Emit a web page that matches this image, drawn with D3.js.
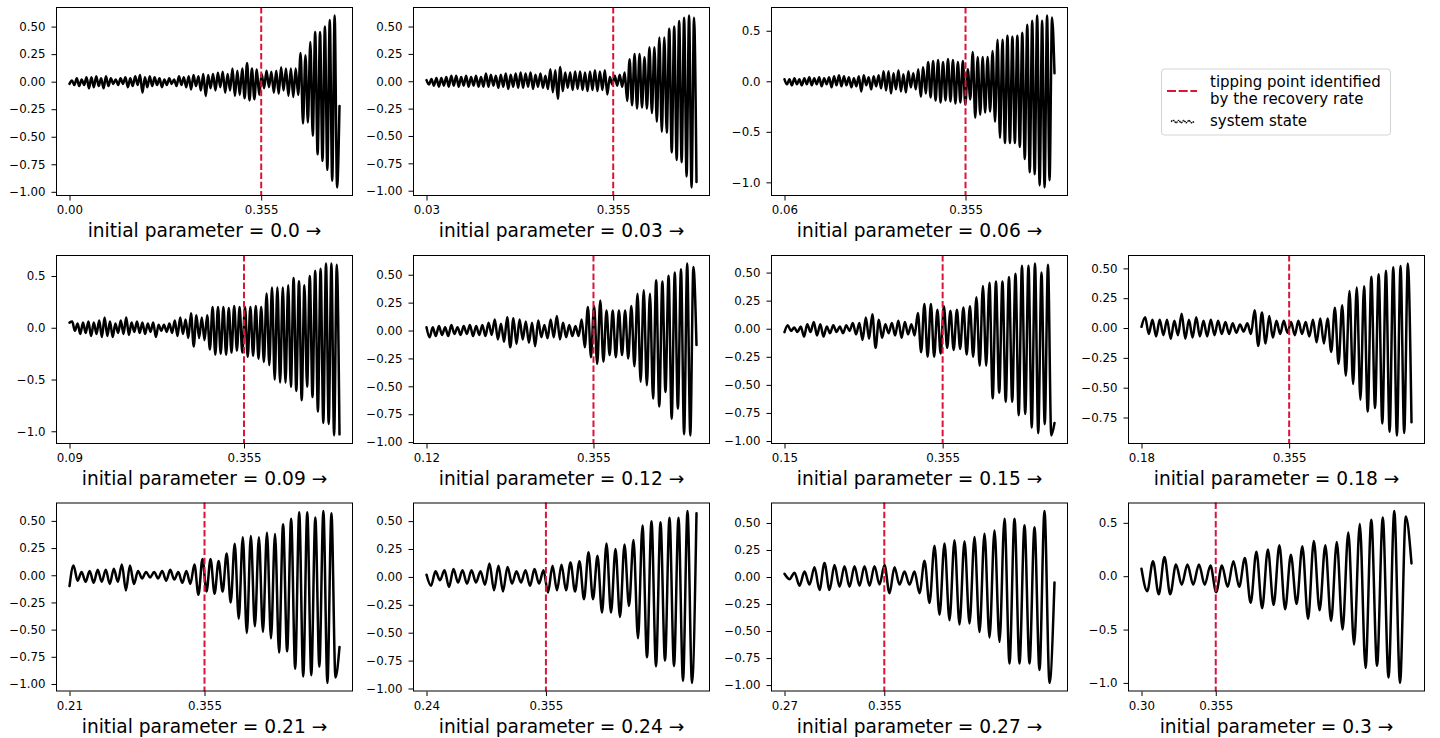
<!DOCTYPE html>
<html>
<head>
<meta charset="utf-8">
<script src="https://cdn.jsdelivr.net/npm/d3@7"></script>
<style>
  html, body { margin: 0; padding: 0; background: #ffffff; }
  svg { display: block; font-family: "DejaVu Sans", sans-serif; }
</style>
</head>
<body>
<svg id="chart" width="1440" height="738"></svg>
<script>
// ---- data -------------------------------------------------------------
// starting value of the slowly ramped parameter, one run per panel
const startParams = [0.0, 0.03, 0.06, 0.09, 0.12, 0.15, 0.18, 0.21, 0.24, 0.27, 0.3];
const titleLabels = ["0.0", "0.03", "0.06", "0.09", "0.12", "0.15", "0.18", "0.21", "0.24", "0.27", "0.3"];
const startTickLabels = ["0.00", "0.03", "0.06", "0.09", "0.12", "0.15", "0.18", "0.21", "0.24", "0.27", "0.30"];
const tippingPoint = 0.355;   // tipping point found from the recovery rate
const endParam = 0.5;         // every run ends here

// system state, successive turning points (peak / trough) of each run,
// evenly spaced in time from the start parameter to the end parameter
const stateFrom000 = [
  -0.02, 0.01, -0.03, 0.03, -0.04, 0.02, -0.03, 0.04, -0.06, 0.04,
  -0.05, 0.05, -0.04, 0.03, -0.06, 0.05, -0.04, 0.03, -0.02, 0.02,
  -0.03, 0.03, -0.02, 0.04, -0.05, 0.03, -0.04, 0.05, -0.03, 0.06,
  -0.10, 0.04, -0.05, 0.05, -0.04, 0.04, -0.03, 0.03, -0.05, 0.02,
  -0.03, 0.03, -0.02, 0.02, -0.04, 0.05, -0.03, 0.04, -0.05, 0.05,
  -0.07, 0.06, -0.04, 0.05, -0.08, 0.07, -0.13, 0.06, -0.06, 0.07,
  -0.08, 0.08, -0.05, 0.09, -0.10, 0.07, -0.08, 0.12, -0.13, 0.10,
  -0.12, 0.12, -0.15, 0.17, -0.17, 0.12, -0.16, 0.11, -0.12, 0.07,
  -0.06, 0.10, -0.05, 0.09, -0.10, 0.10, -0.11, 0.13, -0.08, 0.12,
  -0.13, 0.12, -0.14, 0.12, -0.12,
  0.26, -0.38, 0.24, -0.37, 0.36, -0.49, 0.45, -0.66, 0.45, -0.72,
  0.50, -0.80, 0.56, -0.90, 0.60, -0.96, -0.22
];
const stateFrom003 = [
  0.01, -0.03, 0.02, -0.04, 0.03, -0.05, 0.03, -0.04, 0.04, -0.05,
  0.05, -0.04, 0.05, -0.05, 0.04, -0.04, 0.05, -0.05, 0.04, -0.04,
  0.05, -0.05, 0.04, -0.05, 0.07, -0.05, 0.06, -0.04, 0.05, -0.06,
  0.06, -0.05, 0.07, -0.07, 0.06, -0.05, 0.07, -0.06, 0.08, -0.06,
  0.07, -0.05, 0.08, -0.07, 0.06, -0.05, 0.07, -0.06, 0.05, -0.07,
  0.11, -0.10, 0.10, -0.16, 0.13, -0.09, 0.08, -0.06, 0.08, -0.08,
  0.09, -0.07, 0.09, -0.08, 0.08, -0.09, 0.09, -0.08, 0.10, -0.09,
  0.09, -0.08, 0.10, -0.12, 0.04, -0.03, 0.05, -0.04, 0.06, -0.05,
  0.08, -0.18, 0.20, -0.22, 0.25, -0.25, 0.25, -0.24, 0.22, -0.25,
  0.31, -0.29, 0.31, -0.37, 0.40, -0.46, 0.40, -0.47, 0.48, -0.65,
  0.50, -0.72, 0.55, -0.74, 0.58, -0.87, 0.60, -0.97, 0.58, -0.92
];
const stateFrom006 = [
  0.02, -0.03, 0.02, -0.04, 0.03, -0.03, 0.02, -0.04, 0.03, -0.03,
  0.04, -0.04, 0.03, -0.03, 0.04, -0.05, 0.03, -0.03, 0.04, -0.06,
  0.05, -0.04, 0.06, -0.05, 0.05, -0.04, 0.04, -0.06, 0.03, -0.05,
  0.05, -0.10, 0.06, -0.04, 0.04, -0.08, 0.05, -0.05, 0.06, -0.07,
  0.10, -0.09, 0.10, -0.12, 0.08, -0.08, 0.11, -0.10, 0.07, -0.11,
  0.10, -0.06, 0.08, -0.08, 0.12, -0.15, 0.14, -0.12, 0.19, -0.16,
  0.20, -0.19, 0.21, -0.21, 0.19, -0.19, 0.22, -0.20, 0.21, -0.22,
  0.19, -0.21, 0.20, -0.23, 0.12, -0.18, 0.29, -0.36, 0.24, -0.33,
  0.24, -0.31, 0.24, -0.30, 0.30, -0.40, 0.41, -0.56, 0.41, -0.61,
  0.45, -0.61, 0.44, -0.61, 0.45, -0.65, 0.48, -0.77, 0.56, -0.90,
  0.60, -0.92, 0.65, -1.03, 0.60, -1.05, 0.65, -0.98, 0.63, 0.08
];
const stateFrom009 = [
  0.05, 0.06, -0.03, 0.04, -0.06, 0.05, -0.05, 0.06, -0.08, 0.05,
  -0.06, 0.07, -0.09, 0.10, -0.08, 0.06, -0.09, 0.04, -0.05, 0.07,
  -0.06, 0.10, -0.07, 0.05, -0.04, 0.06, -0.05, 0.05, -0.06, 0.04,
  -0.04, 0.05, -0.09, 0.03, -0.03, 0.03, -0.04, 0.04, -0.05, 0.07,
  -0.08, 0.10, -0.06, 0.08, -0.10, 0.14, -0.18, 0.12, -0.10, 0.10,
  -0.12, 0.12, -0.21, 0.20, -0.26, 0.20, -0.25, 0.20, -0.26, 0.19,
  -0.24, 0.21, -0.22, 0.20, -0.24,
  0.20, -0.28, 0.20, -0.27, 0.21, -0.30, 0.20, -0.33, 0.33, -0.36,
  0.39, -0.50, 0.39, -0.53, 0.39, -0.53, 0.41, -0.57, 0.48, -0.61,
  0.45, -0.70, 0.41, -0.57, 0.50, -0.67, 0.55, -0.81, 0.57, -0.92,
  0.62, -0.93, 0.62, -1.04, 0.61, -1.03
];
const stateFrom012 = [
  0.03, -0.06, 0.03, -0.05, 0.04, -0.04, 0.03, -0.05, 0.05, -0.03,
  0.03, -0.04, 0.04, -0.03, 0.05, -0.05, 0.04, -0.04, 0.05, -0.05,
  0.07, -0.04, 0.10, -0.08, 0.06, -0.10, 0.12, -0.15, 0.11, -0.12,
  0.10, -0.08, 0.08, -0.11, 0.07, -0.14, 0.09, -0.06, 0.05, -0.07,
  0.10, -0.06, 0.13, -0.08, 0.07, -0.06, 0.05, -0.05, 0.04, -0.05,
  0.10, -0.15,
  0.21, -0.24, 0.22, -0.30, 0.27, -0.28, 0.18, -0.22, 0.18, -0.24,
  0.18, -0.22, 0.18, -0.25, 0.22, -0.32, 0.33, -0.46, 0.36, -0.49,
  0.33, -0.61, 0.45, -0.68, 0.44, -0.55, 0.49, -0.79, 0.52, -0.70,
  0.55, -0.93, 0.60, -0.94, 0.57, -0.13
];
const stateFrom015 = [
  -0.03, 0.03, -0.02, 0.01, -0.03, 0.02, -0.07, 0.04, -0.03, 0.06,
  -0.06, 0.04, -0.07, 0.02, -0.04, 0.03, -0.03, 0.02, -0.04, 0.03,
  -0.02, 0.05, -0.05, 0.05, -0.10, 0.10, -0.09, 0.13, -0.17, 0.08,
  -0.08, 0.04, -0.04, 0.05, -0.06, 0.07, -0.08, 0.06, -0.05, 0.04,
  -0.06, 0.14, -0.21, 0.22, -0.25, 0.22, -0.25, 0.17, -0.22, 0.20,
  -0.17, 0.16, -0.19, 0.17, -0.18, 0.19, -0.23, 0.20, -0.25, 0.28,
  -0.33, 0.38, -0.33, 0.41, -0.62, 0.42, -0.57, 0.42, -0.65, 0.46,
  -0.65, 0.49, -0.77, 0.56, -0.76, 0.56, -0.88, 0.58, -0.93, 0.50,
  -0.85, 0.57, -0.95, -0.84
];
const stateFrom018 = [
  0.01, 0.09, -0.05, 0.07, -0.07, 0.07, -0.06, 0.07, -0.09, 0.06,
  -0.06, 0.12, -0.09, 0.07, -0.08, 0.09, -0.07, 0.06, -0.07, 0.07,
  -0.06, 0.06, -0.05, 0.05, -0.05, 0.04, -0.04, 0.03, -0.03, 0.04,
  -0.05, 0.15, -0.15, 0.13, -0.13, 0.10, -0.08, 0.06, -0.05, 0.06,
  -0.04, 0.05, -0.06, 0.06, -0.05, 0.05, -0.07, 0.07, -0.12, 0.08,
  -0.13, 0.08, -0.20, 0.17, -0.30, 0.19, -0.40, 0.31, -0.47, 0.34,
  -0.60, 0.35, -0.70, 0.43, -0.67, 0.45, -0.80, 0.48, -0.87, 0.51,
  -0.90, 0.52, -0.88, 0.54, -0.79
];
const stateFrom021 = [
  -0.10, 0.09, -0.05, 0.03, -0.06, 0.04, -0.07, 0.05, -0.06, 0.05,
  -0.08, 0.06, -0.06, 0.10, -0.14, 0.09, -0.08, 0.04, -0.03, 0.03,
  -0.02, 0.03, -0.03, 0.04, -0.05, 0.05, -0.04, 0.03, -0.07, 0.04,
  -0.08, 0.10, -0.18, 0.15, -0.15, 0.15, -0.17, 0.13, -0.15, 0.20,
  -0.25, 0.29, -0.40, 0.35, -0.53, 0.36, -0.47, 0.35, -0.52, 0.39,
  -0.58, 0.38, -0.71, 0.47, -0.70, 0.52, -0.86, 0.58, -0.93, 0.58,
  -0.92, 0.53, -0.84, 0.59, -0.99, 0.57, -0.94, -0.66
];
const stateFrom024 = [
  0.02, -0.08, 0.05, -0.03, 0.06, -0.09, 0.07, -0.05, 0.06, -0.06,
  0.06, -0.05, 0.05, -0.07, 0.12, -0.12, 0.10, -0.13, 0.09, -0.06,
  0.05, -0.05, 0.06, -0.08, 0.07, -0.06, 0.06, -0.14, 0.10, -0.12,
  0.11, -0.12, 0.13, -0.13, 0.14, -0.20, 0.22, -0.20, 0.19, -0.32,
  0.30, -0.32, 0.25, -0.36, 0.29, -0.26, 0.33, -0.55, 0.46, -0.72,
  0.50, -0.80, 0.49, -0.75, 0.53, -0.80, 0.53, -0.93, 0.59, -0.95,
  0.57
];
const stateFrom027 = [
  0.03, -0.02, 0.04, -0.08, 0.05, -0.07, 0.09, -0.12, 0.13, -0.12,
  0.11, -0.09, 0.10, -0.09, 0.10, -0.08, 0.10, -0.08, 0.10, -0.07,
  0.11, -0.15, 0.09, -0.07, 0.05, -0.07, 0.05, -0.15, 0.15, -0.24,
  0.29, -0.35, 0.31, -0.40, 0.34, -0.44, 0.33, -0.43, 0.37, -0.51,
  0.40, -0.56, 0.43, -0.60, 0.54, -0.80, 0.54, -0.80, 0.48, -0.80,
  0.46, -0.86, 0.61, -0.98, -0.05
];
const stateFrom030 = [
  0.07, -0.14, 0.14, -0.17, 0.18, -0.17, 0.11, -0.08, 0.11, -0.08,
  0.11, -0.08, 0.10, -0.15, 0.10, -0.10, 0.14, -0.10, 0.17, -0.25,
  0.23, -0.30, 0.25, -0.27, 0.29, -0.31, 0.20, -0.26, 0.28, -0.40,
  0.33, -0.32, 0.29, -0.42, 0.32, -0.50, 0.41, -0.64, 0.49, -0.86,
  0.53, -0.84, 0.55, -0.95, 0.61, -1.00, 0.56, 0.12
];
const stateSeries = [stateFrom000, stateFrom003, stateFrom006, stateFrom009, stateFrom012,
  stateFrom015, stateFrom018, stateFrom021, stateFrom024, stateFrom027, stateFrom030];

// y tick values for each panel
const yTicksQuarter = [-1.0, -0.75, -0.5, -0.25, 0.0, 0.25, 0.5];
const yTicksHalf = [-1.0, -0.5, 0.0, 0.5];
const yTicksShort = [-0.75, -0.5, -0.25, 0.0, 0.25, 0.5];
const yTickSets = [yTicksQuarter, yTicksQuarter, yTicksHalf, yTicksHalf, yTicksQuarter,
  yTicksQuarter, yTicksShort, yTicksQuarter, yTicksQuarter, yTicksQuarter, yTicksHalf];
const yTickDecimals = [2, 2, 1, 1, 2, 2, 2, 2, 2, 2, 1];

// small wave used as the legend key of the state line
const legendWave = [0, 1, -1, 1, -1, 1, -1, 1, -1, 0];

// ---- layout -----------------------------------------------------------
const colLeft = [56, 413, 771, 1128];
const rowTop = [7, 255, 502.5];
const axW = 297, axH = 189;
const tipColor = "#dc143c";
const tickFont = "11.8px";

const svg = d3.select("#chart");

function slotOf(k) {
  if (k < 3) return { row: 0, col: k };
  return { row: 1 + Math.floor((k - 3) / 4), col: (k - 3) % 4 };
}

function drawPanel(k) {
  const { row, col } = slotOf(k);
  const left = colLeft[col], top = rowTop[row];
  const x0 = startParams[k];
  const values = stateSeries[k];
  const n = values.length;
  const dt = (endParam - x0) / (n - 1);
  const pts = values.map((v, i) => [x0 + i * dt, v]);

  const xSpan = endParam - x0;
  const x = d3.scaleLinear()
    .domain([x0 - 0.05 * xSpan, endParam + 0.05 * xSpan])
    .range([0, axW]);
  const [lo, hi] = d3.extent(values);
  const ySpan = hi - lo;
  const y = d3.scaleLinear()
    .domain([lo - 0.05 * ySpan, hi + 0.05 * ySpan])
    .range([axH, 0]);

  const g = svg.append("g").attr("transform", `translate(${left},${top})`);

  // system state
  g.append("path")
    .datum(pts)
    .attr("fill", "none")
    .attr("stroke", "#000")
    .attr("stroke-width", 2.5)
    .attr("stroke-linejoin", "round")
    .attr("stroke-linecap", "round")
    .attr("d", d3.line().x(d => x(d[0])).y(d => y(d[1])).curve(d3.curveMonotoneX));

  // tipping point marker
  g.append("line")
    .attr("x1", x(tippingPoint)).attr("x2", x(tippingPoint))
    .attr("y1", 0).attr("y2", axH)
    .attr("stroke", tipColor)
    .attr("stroke-width", 2)
    .attr("stroke-dasharray", "6.5,2.7");

  // frame
  g.append("rect")
    .attr("x", 0.5).attr("y", 0.5)
    .attr("width", axW - 1).attr("height", axH - 1)
    .attr("fill", "none")
    .attr("stroke", "#000")
    .attr("stroke-width", 1);

  // axes
  const fmt = d3.format("." + yTickDecimals[k] + "f");
  const yAxis = g.append("g")
    .call(d3.axisLeft(y).tickValues(yTickSets[k]).tickFormat(fmt)
      .tickSize(4.5).tickPadding(6));
  const xAxis = g.append("g")
    .attr("transform", `translate(0,${axH})`)
    .call(d3.axisBottom(x).tickValues([x0, tippingPoint])
      .tickFormat((d, i) => i === 0 ? startTickLabels[k] : "0.355")
      .tickSize(4.5).tickPadding(5.5));
  [yAxis, xAxis].forEach(a => {
    a.attr("font-family", null).attr("font-size", null);
    a.select(".domain").remove();
    a.selectAll("line").attr("stroke", "#000").attr("stroke-width", 1);
    a.selectAll("text")
      .attr("fill", "#000")
      .style("font-family", "'DejaVu Sans', sans-serif")
      .style("font-size", tickFont);
  });

  // axis title
  g.append("text")
    .attr("x", axW / 2)
    .attr("y", axH + 41)
    .attr("text-anchor", "middle")
    .attr("fill", "#000")
    .style("font-size", "18.6px")
    .text("initial parameter = " + titleLabels[k] + " \u2192");
}

startParams.forEach((_, k) => drawPanel(k));

// ---- legend -----------------------------------------------------------
const lg = svg.append("g").attr("transform", "translate(1161.5,69)");
lg.append("rect")
  .attr("x", 0).attr("y", 0)
  .attr("width", 229).attr("height", 66)
  .attr("rx", 3).attr("ry", 3)
  .attr("fill", "#fff")
  .attr("stroke", "#d4d4d4")
  .attr("stroke-width", 1);

lg.append("line")
  .attr("x1", 5.5).attr("x2", 35.5)
  .attr("y1", 22).attr("y2", 22)
  .attr("stroke", tipColor)
  .attr("stroke-width", 2)
  .attr("stroke-dasharray", "9,2.7");

const wx = d3.scaleLinear().domain([0, legendWave.length - 1]).range([9.5, 32.5]);
const wy = d3.scaleLinear().domain([-1, 1]).range([53.8, 51.4]);
lg.append("path")
  .datum(legendWave)
  .attr("fill", "none")
  .attr("stroke", "#000")
  .attr("stroke-width", 1.4)
  .attr("stroke-dasharray", "1.6,0.6")
  .attr("d", d3.line().x((d, i) => wx(i)).y(d => wy(d)).curve(d3.curveMonotoneX));

const legendText = [
  { t: "tipping point identified", y: 18.3 },
  { t: "by the recovery rate", y: 34.7 },
  { t: "system state", y: 57 }
];
lg.selectAll("text.lt")
  .data(legendText)
  .enter().append("text")
  .attr("class", "lt")
  .attr("x", 48.5)
  .attr("y", d => d.y)
  .attr("fill", "#000")
  .style("font-size", "15px")
  .text(d => d.t);
</script>
</body>
</html>
